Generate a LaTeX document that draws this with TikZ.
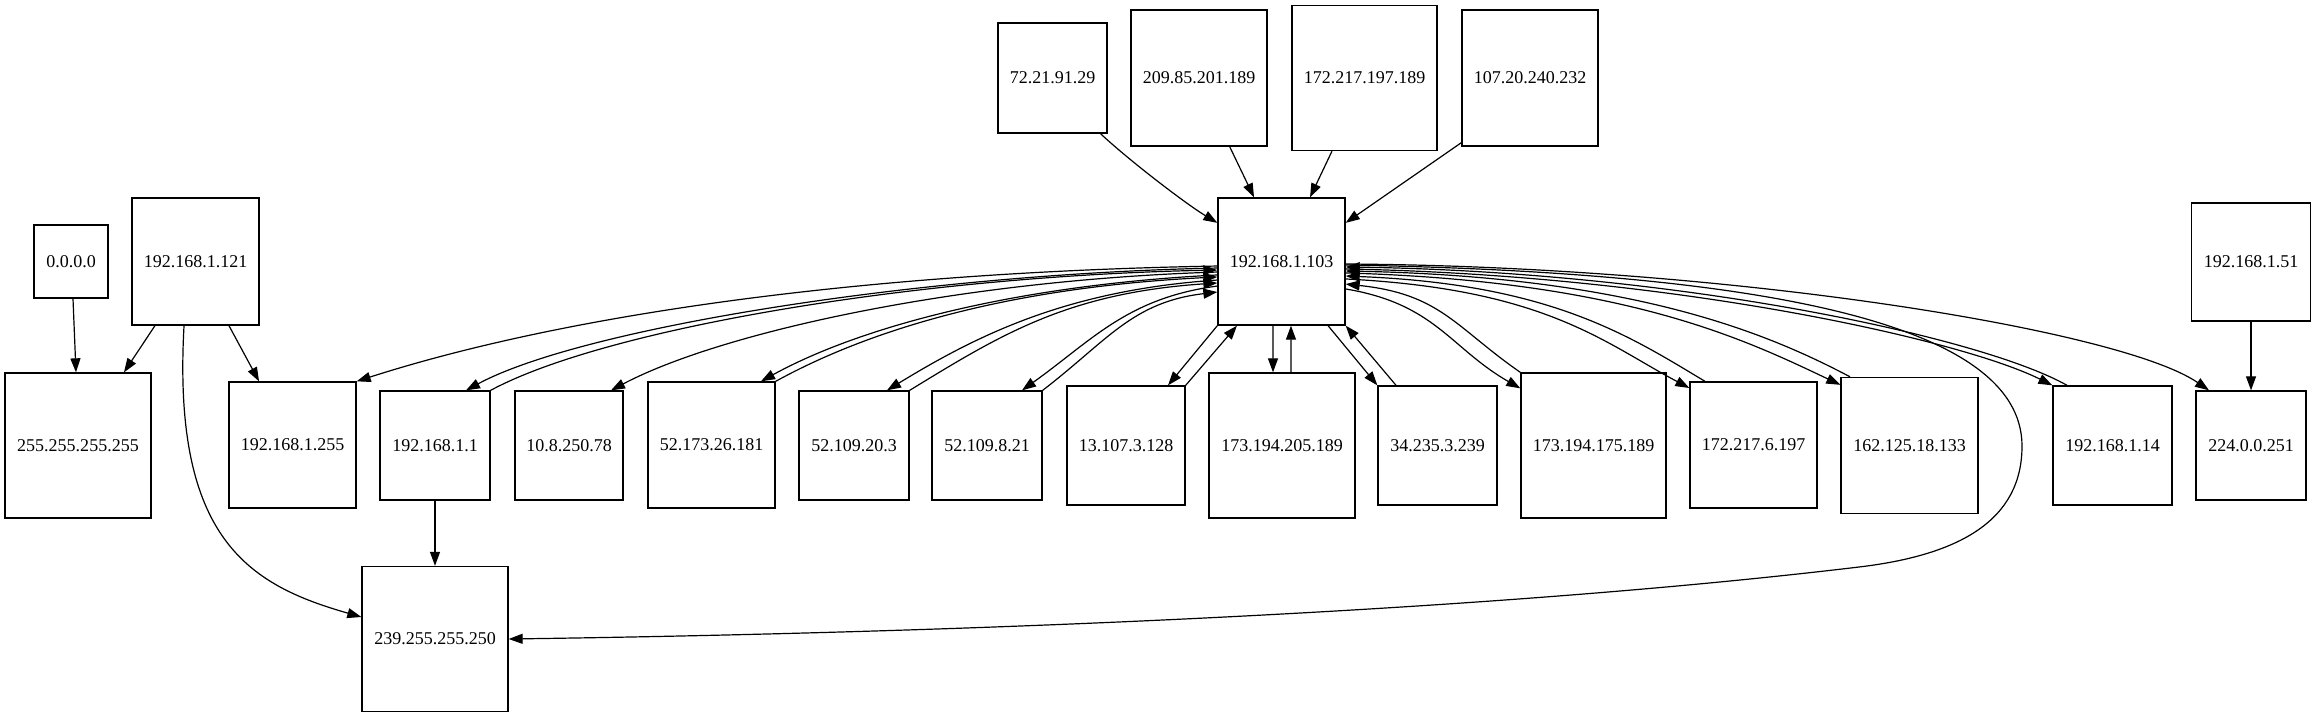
\documentclass[tikz,border=0pt]{standalone}
\usepackage{fontspec}
\setmainfont{Liberation Serif}
\usetikzlibrary{arrows.meta}
\tikzset{
  host/.style 2 args={draw, line width=1pt, inner sep=0pt, minimum width=#1*0.75pt, minimum height=#2*0.75pt, font=\fontsize{13.5}{16}\selectfont},
  link/.style={line width=0.9pt, -{Triangle[length=10.5pt,width=7.5pt]}},
}
\begin{document}
\begin{tikzpicture}[x=0.75pt, y=-0.75pt]
\fill[white] (0,0) rectangle (2316,717);
\useasboundingbox (0,0) rectangle (2316,717);
% nodes
\node[host={74}{73}] (n0) at (71,261.5) {0.0.0.0};
\node[host={127}{127}] (n121) at (195.5,261.5) {192.168.1.121};
\node[host={146}{145}] (n255) at (78,445.5) {255.255.255.255};
\node[host={127}{126}] (n1255) at (292.5,445) {192.168.1.255};
\node[host={110}{109}] (n11) at (435,445.5) {192.168.1.1};
\node[host={108}{109}] (n10) at (569,445.5) {10.8.250.78};
\node[host={127}{126}] (n52173) at (711.5,445) {52.173.26.181};
\node[host={110}{109}] (n52109a) at (854,445.5) {52.109.20.3};
\node[host={110}{109}] (n52109b) at (987,445.5) {52.109.8.21};
\node[host={118}{119}] (n13) at (1126,445.5) {13.107.3.128};
\node[host={146}{145}] (n173a) at (1282,445.5) {173.194.205.189};
\node[host={119}{119}] (n34) at (1437.5,445.5) {34.235.3.239};
\node[host={145}{145}] (n173b) at (1593.5,445.5) {173.194.175.189};
\node[host={127}{126}] (n172) at (1753.5,445) {172.217.6.197};
\node[host={137}{136}] (n162) at (1909.5,445.5) {162.125.18.133};
\node[host={119}{119}] (n114) at (2112.5,445.5) {192.168.1.14};
\node[host={110}{109}] (n224) at (2251,445.5) {224.0.0.251};
\node[host={119}{118}] (n151) at (2251,262) {192.168.1.51};
\node[host={127}{127}] (n103) at (1281.5,261.5) {192.168.1.103};
\node[host={109}{110}] (n72) at (1052.5,78) {72.21.91.29};
\node[host={136}{136}] (n209) at (1199,78) {209.85.201.189};
\node[host={145}{145}] (n172b) at (1364.5,78) {172.217.197.189};
\node[host={136}{136}] (n107) at (1530,78) {107.20.240.232};
\node[host={146}{145}] (n239) at (435,639) {239.255.255.250};
% top into 103
\draw[link] ([xshift=36pt]n72.south) .. controls +(30,28) and +(-30,-18) .. ([yshift=29pt]n103.west);
\draw[link] ([xshift=23pt]n209.south) -- ([xshift=-20.6pt]n103.north);
\draw[link] ([xshift=-24.4pt]n172b.south) -- ([xshift=21.4pt]n103.north);
\draw[link] ([yshift=3pt]n107.south west) -- ([yshift=29pt]n103.east);
% left cluster
\draw[link] ([xshift=1.5pt]n0.south) -- ([xshift=-1.5pt]n255.north);
\draw[link] ([xshift=-30.4pt]n121.south) -- ([xshift=34.5pt]n255.north);
\draw[link] ([xshift=25.1pt]n121.south) -- ([xshift=-25.1pt]n1255.north);
\draw[link] ([xshift=-8.6pt]n121.south) .. controls +(-12,214) and +(-112,-32) .. ([yshift=16.5pt]n239.west);
\draw[link] (n11.south) -- (n239.north);
\draw[link] (n151.south) -- (n224.north);
% 103 to the left row
\draw[link] ([yshift=-3.4pt]n103.west) .. controls +(-345,6) and +(215,-69) .. (n1255.north east);
\draw[link] ([yshift=-4.9pt]n103.west) .. controls +(-300,6) and +(115,-62) .. ([xshift=23.25pt]n11.north);
\draw[link] (n11.north east) .. controls +(115,-62) and +(-300,6) .. ([yshift=-6.4pt]n103.west);
\draw[link] ([yshift=-7.9pt]n103.west) .. controls +(-260,8) and +(110,-58) .. ([xshift=31.5pt]n10.north);
\draw[link] ([yshift=-10.1pt]n103.west) .. controls +(-200,10) and +(100,-55) .. ([xshift=37.1pt]n52173.north);
\draw[link] (n52173.north east) .. controls +(100,-55) and +(-200,10) .. ([yshift=-11.6pt]n103.west);
\draw[link] ([yshift=-13.9pt]n103.west) .. controls +(-150,10) and +(90,-55) .. ([xshift=24.75pt]n52109a.north);
\draw[link] (n52109a.north east) .. controls +(90,-55) and +(-150,10) .. ([yshift=-16.1pt]n103.west);
\draw[link] ([yshift=-18.4pt]n103.west) .. controls +(-90,12) and +(70,-50) .. ([xshift=26.25pt]n52109b.north);
\draw[link] (n52109b.north east) .. controls +(65,-50) and +(-85,10) .. ([yshift=-22.9pt]n103.west);
% 103 below
\draw[link] (n103.south west) -- ([xshift=31.5pt]n13.north);
\draw[link] (n13.north east) -- ([xshift=-33.4pt]n103.south);
\draw[link] ([xshift=-6.4pt]n103.south) -- ([xshift=-6.75pt]n173a.north);
\draw[link] ([xshift=6.75pt]n173a.north) -- ([xshift=7.1pt]n103.south);
\draw[link] ([xshift=34.9pt]n103.south) -- (n34.north west);
\draw[link] ([xshift=-31.1pt]n34.north) -- (n103.south east);
% 103 to the right row
\draw[link] ([yshift=-1.9pt]n103.east) .. controls +(380,2) and +(-89,-61) .. ([xshift=-31.5pt]n224.north);
\draw[link] ([yshift=-5.6pt]n103.east) .. controls +(330,6) and +(-90,-45) .. (n114.north west);
\draw[link] ([xshift=-34.1pt]n114.north) .. controls +(-85,-48) and +(335,5) .. ([yshift=-4.1pt]n103.east);
\draw[link] ([yshift=-8.6pt]n103.east) .. controls +(280,8) and +(-95,-45) .. ([yshift=-6pt]n162.north west);
\draw[link] ([xshift=-44.6pt]n162.north) .. controls +(-85,-45) and +(285,6) .. ([yshift=-7.1pt]n103.east);
\draw[link] ([yshift=-13.1pt]n103.east) .. controls +(200,10) and +(-85,-45) .. ([yshift=-5pt]n172.north west);
\draw[link] ([xshift=-36.4pt]n172.north) .. controls +(-75,-45) and +(205,8) .. ([yshift=-10.9pt]n103.east);
\draw[link] ([yshift=-20.6pt]n103.east) .. controls +(90,15) and +(-70,-40) .. ([yshift=-12pt]n173b.north west);
\draw[link] (n173b.north west) .. controls +(-65,-45) and +(95,10) .. ([yshift=-16.9pt]n103.east);
% loop to 239.255.255.250
\coordinate (loopA) at (2022,446);
\coordinate (loopB) at (1859,567);
\draw[link] ([yshift=-2.6pt]n103.east) .. controls (1750,272) and (2022,320) .. (loopA) .. controls (2022,520) and (1960,555) .. (loopB) .. controls (1500,610) and (1000,632) .. (n239.east);
\end{tikzpicture}
\end{document}
